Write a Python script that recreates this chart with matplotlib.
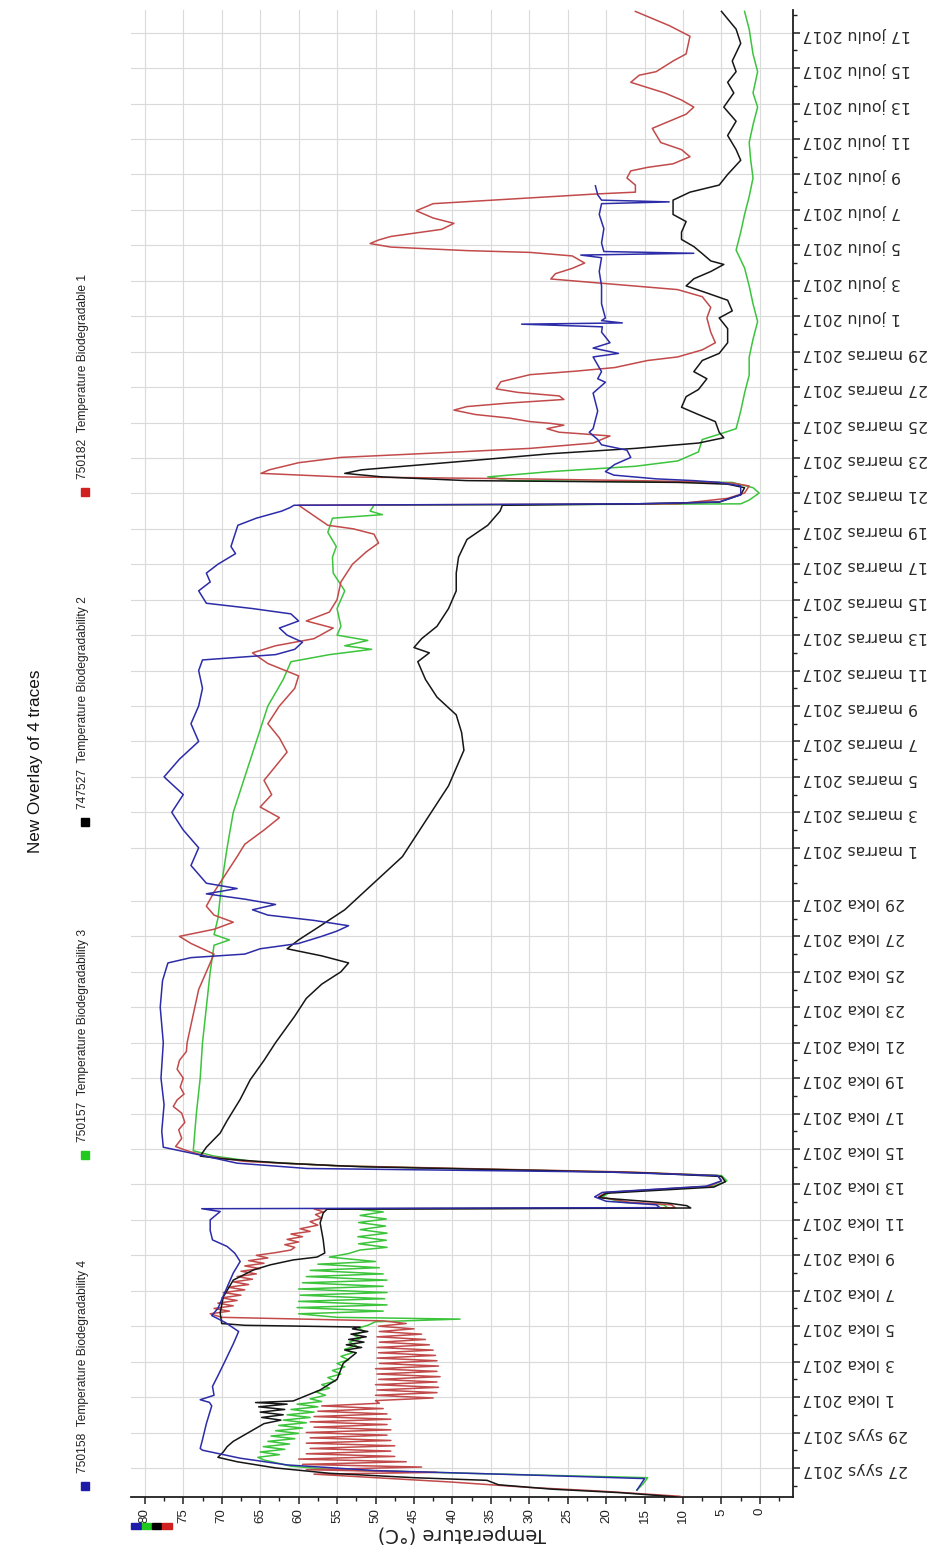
import datetime as dt

import numpy as np
import matplotlib
matplotlib.use("Agg")
import matplotlib.pyplot as plt
import matplotlib.dates as mdates
from matplotlib import font_manager
from matplotlib.patches import Rectangle
from matplotlib.ticker import MultipleLocator, FuncFormatter

# ---------------------------------------------------------------------------
# Data (days counted from 27 syys 2017 00:00, temperature in degC)
# ---------------------------------------------------------------------------

START = dt.datetime(2017, 9, 27)
MONTHS = {9: "syys", 10: "loka", 11: "marras", 12: "joulu"}

TRACE_IDS = ["750158", "750157", "747527", "750182"]
TRACE_NAMES = [
    "Temperature Biodegradability 4",
    "Temperature Biodegradability 3",
    "Temperature Biodegradability 2",
    "Temperature Biodegradable 1",
]

blue = [
    (-1.25, 16), (-0.6, 15), (-0.4, 30), (-0.15, 50), (0.17, 61.5), (0.55, 67.6),
    (1.0, 72.5), (1.1, 72.8), (1.6, 72.5), (2.5, 72.0), (3.5, 71.3), (3.7, 71.6),
    (3.85, 72.8), (4.1, 71.0), (4.6, 71.2), (5.2, 70.5), (6.0, 69.6), (7.0, 68.5),
    (7.7, 67.8), (8.2, 69.5), (8.6, 71.3), (9.0, 70.5), (10.0, 69.5), (11.0, 68.5),
    (11.65, 67.6), (12.12, 68.3), (12.5, 69.3), (12.87, 71.2), (13.4, 71.5), (14.0, 71.5),
    (14.47, 70.2), (14.63, 72.6),
    (14.69, 13), (14.85, 13.5), (15.05, 20), (15.3, 21.5), (15.55, 20.5), (15.9, 7),
    (16.2, 5), (16.5, 5.5), (16.7, 20), (16.9, 58.9), (17.2, 68), (17.66, 72.8),
    (18.1, 77.6), (19, 77.8), (20.5, 77.5), (22, 77.9), (24, 77.6), (26, 78.0),
    (27.5, 77.7), (28.5, 77.0), (28.8, 74), (29.0, 67), (29.3, 65), (29.6, 60),
    (30.0, 57), (30.3, 55), (30.6, 53.5), (30.9, 58), (31.2, 64), (31.5, 66),
    (31.8, 63), (32.1, 67), (32.4, 72), (32.7, 68), (33.0, 72), (34, 74),
    (35, 73), (36, 75), (37, 76.5), (38, 75), (39, 77.5), (40, 75.5),
    (41, 73), (42, 74), (43, 73), (44, 72.5), (45, 73), (45.6, 72.5),
    (45.9, 63), (46.2, 60.5), (46.6, 59.5), (47.0, 61.5), (47.4, 62.5), (47.8, 60),
    (48.2, 61), (48.5, 66), (48.8, 72), (49.5, 73), (50, 71.5), (50.5, 72),
    (51.0, 70.5), (51.6, 68.2), (52.0, 68.8), (53.2, 67.9), (53.6, 65.5), (54.0, 62.2),
    (54.2, 61.1), (54.33, 60.6),
    (54.41, 16.2), (54.51, 5.3), (54.92, 2.5), (55.42, 2.5), (55.62, 5.3), (55.72, 8.6),
    (55.82, 13.5), (56.03, 19.0), (56.23, 20.1), (56.63, 18.9), (57.03, 16.8), (57.44, 17.3),
    (57.74, 20.6), (58.04, 21.1), (58.45, 22.2), (58.65, 21.7), (59.65, 21.1), (60.66, 21.7),
    (61.27, 20.1), (61.47, 21.1), (61.87, 20.6), (62.7, 21.7), (62.9, 18.4), (63.2, 21.7),
    (63.5, 19.5), (64.1, 20.6), (64.4, 20.5), (64.55, 31.0), (64.62, 17.9), (64.75, 20.6),
    (64.9, 20.1), (65.7, 20.6), (66.71, 20.6), (67.52, 20.9), (68.3, 20.6), (68.45, 23.3),
    (68.55, 8.6), (68.65, 20.3), (69.13, 20.6), (69.94, 20.3), (70.74, 20.9), (71.35, 20.6),
    (71.45, 11.8), (71.55, 20.6), (71.85, 21.1), (72.36, 21.4),
]

green = [
    (-1.25, 16), (-0.9, 15.2), (-0.55, 14.6), (-0.35, 33.8), (-0.1, 55.5), (0.1, 61),
    (0.45, 64.5),
    (0.6, 65.3), (0.75, 62.5), (0.9, 65), (1.05, 61.8), (1.2, 64.6), (1.35, 61.2),
    (1.5, 64), (1.65, 60.5), (1.8, 63.6), (1.95, 60), (2.1, 63), (2.25, 59.5),
    (2.4, 62.6), (2.55, 59), (2.7, 62), (2.85, 58.5), (3.0, 61.5), (3.15, 58),
    (3.3, 61), (3.45, 57.5), (3.6, 60.2), (3.75, 57),
    (3.9, 58.5), (4.1, 56.5), (4.3, 57.8), (4.5, 56), (4.7, 57), (4.9, 55.2),
    (5.1, 56.2), (5.3, 54.5), (5.5, 55.6), (5.7, 54), (5.9, 55), (6.1, 53.5),
    (6.3, 54.5), (6.5, 53), (6.7, 54), (6.9, 52.5), (7.1, 53.4), (7.3, 52),
    (7.5, 52.8), (7.7, 51.5), (7.9, 52.2), (8.05, 51),
    (8.25, 50), (8.4, 39), (8.5, 55),
    (8.7, 60), (8.85, 49), (9.05, 60.2), (9.2, 48.5), (9.4, 60), (9.55, 48.8),
    (9.75, 59.8), (9.9, 48.5), (10.1, 60), (10.25, 49), (10.45, 59.5), (10.6, 48.5),
    (10.8, 59), (10.95, 49), (11.15, 58.5), (11.3, 49.5), (11.5, 57.5), (11.65, 50),
    (11.9, 56), (12.1, 53.5), (12.3, 52),
    (12.45, 48.5), (12.65, 52.2), (12.85, 48.6), (13.05, 52.3), (13.25, 48.5), (13.45, 52),
    (13.65, 48.7), (13.85, 52.2), (14.05, 48.6), (14.25, 52), (14.45, 49), (14.62, 52.5),
    (14.68, 12), (14.85, 12.5), (15.0, 18), (15.3, 20.5), (15.55, 19.5), (15.9, 6),
    (16.2, 4.3), (16.5, 5), (16.7, 18), (16.85, 35), (17.05, 55), (17.3, 66),
    (17.6, 71), (17.9, 73.7),
    (20, 73.3), (22, 72.8), (24, 72.5), (26, 72), (28, 71.5), (29.5, 71),
    (29.8, 69), (30.1, 71), (31, 70.5), (33, 70), (35, 69.3), (37, 68.5),
    (39, 67), (41, 65.5), (43, 64), (44.5, 62), (45.5, 61), (45.9, 56),
    (46.2, 50.5), (46.4, 54), (46.7, 51), (47.0, 55), (47.5, 54.5), (48.5, 55),
    (49.5, 54), (50.5, 55.5), (51.4, 55.6), (52.0, 55.1), (52.8, 56.2), (53.6, 55.6),
    (53.8, 49.1), (54.0, 50.7), (54.33, 50.2),
    (54.41, 2.5), (54.62, 1.4), (55.02, 0.1), (55.32, 0.9), (55.62, 3.6), (55.66, 16.2),
    (55.72, 32.6), (55.93, 35.4), (56.23, 27.2), (56.53, 16.2), (56.83, 10.7), (57.34, 8.0),
    (58.04, 7.5), (58.34, 5.3), (58.65, 3.1), (59.65, 2.5), (60.66, 2.0), (61.67, 1.4),
    (62.68, 1.4), (63.7, 0.9), (64.7, 0.3), (65.7, 0.9), (66.71, 1.4), (67.72, 2.0),
    (68.73, 3.1), (69.74, 2.5), (70.74, 2.0), (71.75, 1.4), (72.8, 0.9), (73.8, 1.2),
    (74.8, 1.4), (75.8, 0.9), (76.8, 0.3), (77.6, 0.9), (78.8, 0.3), (79.8, 0.9),
    (81.2, 1.4), (82.2, 2.0),
]

black = [
    (-1.65, 10.4), (-1.4, 18), (-1.2, 27), (-0.95, 34), (-0.7, 35.5), (-0.55, 45),
    (-0.3, 56), (0.0, 63), (0.35, 68), (0.6, 70.5), (0.9, 69.8), (1.2, 69.3),
    (1.5, 68.5), (2.15, 65.9), (2.5, 64.5), (2.7, 62.3), (2.85, 64.8), (3.0, 62),
    (3.15, 65), (3.3, 61.8), (3.45, 65.2), (3.6, 61.5), (3.69, 65.6), (3.78, 60.7),
    (4.4, 57.2), (5.0, 55), (5.9, 54.2), (6.5, 52.5), (6.65, 54), (6.8, 51.8),
    (6.95, 53.8), (7.1, 51.5), (7.25, 53.5), (7.4, 51.2), (7.55, 53.2), (7.7, 51),
    (7.85, 53), (7.95, 52), (8.0, 60), (8.05, 67), (8.15, 70), (8.75, 70.2),
    (9.65, 69.8), (10.6, 68.5), (11.17, 65.9), (11.46, 63.7), (11.74, 60.7), (11.9, 57.6),
    (12.13, 56.6), (12.87, 56.8), (13.83, 57.2), (14.39, 56.8), (14.6, 56.3),
    (14.67, 9), (14.8, 9.5), (14.95, 12), (15.25, 21), (15.5, 20), (15.85, 6),
    (16.15, 4.5), (16.45, 5), (16.65, 15), (16.8, 30), (17.0, 52), (17.2, 62),
    (17.45, 70), (17.6, 72.8),
    (18.1, 72), (18.9, 70.2), (19.6, 69.3), (20.8, 67.6), (21.9, 66.3), (23, 64.5),
    (24, 63), (25.5, 60.5), (26.5, 59), (27.3, 57), (28, 54.5), (28.5, 53.5),
    (28.9, 57), (29.3, 61.5), (29.8, 60), (30.5, 57.5), (31.5, 54), (32.5, 51.5),
    (33.5, 49), (34.5, 46.5), (35.5, 45), (36.5, 43.5), (37.5, 42), (38.5, 40.5),
    (39.5, 39.5), (40.5, 38.5), (41.5, 38.8), (42.5, 39.5), (43.5, 42), (44.5, 43.5),
    (45.5, 44.5), (46, 43), (46.3, 45), (46.8, 44), (47.5, 42), (48.5, 40.5),
    (49.5, 39.5), (50.5, 39.5), (51.4, 39.2), (52.4, 38.1), (53.2, 35.4), (54.0, 33.8),
    (54.33, 33.5),
    (54.41, 16.2), (54.51, 5.3), (54.92, 2.5), (55.32, 2.0), (55.52, 4.2), (55.62, 10.7),
    (55.66, 21.7), (55.72, 38.1), (55.93, 49.1), (56.13, 54.0), (56.33, 51.8), (56.63, 43.6),
    (56.93, 35.4), (57.24, 27.2), (57.54, 16.2), (57.84, 8.0), (58.14, 4.7), (58.45, 5.3),
    (59.05, 5.8), (59.45, 8.0), (59.86, 10.2), (60.46, 9.6), (60.86, 8.0), (61.47, 6.9),
    (61.87, 8.6), (62.5, 7.5), (62.9, 5.3), (63.5, 4.2), (64.3, 4.2), (64.9, 5.3),
    (65.3, 3.6), (65.9, 4.2), (66.31, 6.9), (66.71, 9.6), (67.11, 8.6), (67.52, 6.4),
    (67.92, 4.7), (68.12, 6.4), (68.53, 7.5), (68.93, 8.6), (69.33, 10.2), (69.74, 10.2),
    (70.34, 9.6), (70.74, 11.3), (71.55, 11.3), (72.0, 9.1), (72.4, 5.3), (73.0, 4.2),
    (73.8, 2.5), (74.4, 3.1), (75.2, 4.2), (76.0, 3.1), (76.8, 4.7), (77.6, 3.4),
    (78.2, 4.2), (78.8, 3.1), (79.4, 3.6), (80.4, 2.5), (81.2, 3.1), (82.2, 5.0),
]

red = [
    (-1.6, 10.4), (-1.3, 21), (-1.1, 30), (-0.8, 40), (-0.55, 50), (-0.35, 58),
    (-0.25, 42), (-0.1, 59), (0.05, 44), (0.2, 59.5), (0.35, 46), (0.5, 60),
    (0.65, 47.5), (0.8, 59), (0.95, 48), (1.1, 58.5), (1.25, 47.5), (1.4, 59),
    (1.55, 48), (1.7, 58.5), (1.85, 48.5), (2.0, 59), (2.15, 48), (2.3, 58),
    (2.45, 48.5), (2.6, 58.5), (2.75, 48), (2.9, 58), (3.05, 48.5), (3.2, 57.5),
    (3.35, 49), (3.5, 57), (3.65, 49.5),
    (3.8, 50), (3.95, 42.5), (4.1, 50), (4.25, 42), (4.4, 49.8), (4.55, 41.8),
    (4.7, 50), (4.85, 42), (5.0, 49.6), (5.15, 41.6), (5.3, 49.8), (5.45, 42),
    (5.6, 50), (5.75, 41.8), (5.9, 49.5), (6.05, 42), (6.2, 49.8), (6.35, 42.2),
    (6.5, 49.6), (6.65, 42.5), (6.8, 49.8), (6.95, 43), (7.1, 49.5), (7.25, 43.5),
    (7.4, 49.8), (7.55, 44), (7.7, 49.5), (7.85, 45), (8.0, 49.6), (8.15, 46),
    (8.3, 49), (8.5, 70),
    (8.7, 71.5), (8.85, 69), (9.0, 71), (9.15, 68.5), (9.3, 70.5), (9.45, 68),
    (9.6, 70), (9.75, 67.5), (9.9, 69.8), (10.05, 67), (10.2, 69.2), (10.35, 66.5),
    (10.5, 68.5), (10.65, 66), (10.8, 68), (10.95, 65.5), (11.1, 67.5), (11.25, 65),
    (11.4, 67), (11.55, 64.5), (11.7, 66.5), (11.85, 64), (12.0, 65.5),
    (12.15, 63), (12.3, 61), (12.45, 60.5), (12.6, 61.8), (12.75, 60), (12.9, 61.5),
    (13.05, 59.5), (13.2, 61), (13.35, 58.5), (13.5, 59.8), (13.7, 57.5), (13.9, 58.5),
    (14.1, 57), (14.3, 57.8), (14.45, 56.8), (14.62, 58),
    (14.68, 11), (14.85, 11.5), (15.0, 17), (15.3, 21), (15.55, 20), (15.9, 6.5),
    (16.2, 5), (16.5, 5.5), (16.7, 17), (16.85, 33), (17.05, 55), (17.3, 67),
    (17.6, 72), (17.9, 74.5),
    (18.14, 76.0), (18.6, 75.2), (19.08, 75.6), (19.5, 74.8), (20.02, 75.2), (20.4, 76.3),
    (20.77, 75.8), (21.1, 74.9), (21.5, 75.4), (22, 75), (22.5, 75.8), (23, 75.5),
    (23.5, 74.6), (24, 74.5), (25, 74), (26, 73.5), (27, 73), (28, 72),
    (29, 71), (29.6, 74), (30.0, 75.5), (30.4, 71), (30.8, 68.5), (31.2, 71),
    (31.7, 72), (32.5, 71), (33.5, 69.5), (34.5, 68), (35.2, 67), (36, 64.5),
    (36.7, 62.5), (37.3, 65), (38, 63.5), (38.8, 64.5), (39.6, 63), (40.4, 61.5),
    (41.2, 62.5), (42, 64), (43, 62.5), (44, 60.5), (44.7, 60), (45.4, 64),
    (46.0, 66), (46.4, 63), (46.8, 58), (47.4, 55.5), (47.8, 59), (48.3, 56),
    (49, 55), (50, 54.5), (51, 53), (51.7, 51.2), (52.2, 49.6), (52.7, 50.2),
    (53.0, 52.9), (53.2, 56.2), (54.0, 58.9), (54.33, 60),
    (54.41, 10.7), (54.72, 4.2), (55.02, 2.0), (55.42, 1.4), (55.58, 3.6), (55.66, 8.6),
    (55.72, 16.2), (55.83, 32.6), (55.93, 54.5), (56.13, 64.9), (56.33, 63.8), (56.73, 60.0),
    (57.03, 54.5), (57.14, 49.1), (57.34, 39.2), (57.54, 29.9), (57.84, 21.7), (58.24, 19.5),
    (58.35, 22.8), (58.45, 26.1), (58.65, 27.7), (58.85, 25.5), (58.95, 27.2), (59.05, 29.9),
    (59.25, 32.6), (59.45, 37.0), (59.7, 39.8), (59.9, 38.1), (60.1, 32.6), (60.3, 25.5),
    (60.5, 26.1), (60.7, 31.5), (60.9, 34.3), (61.3, 33.7), (61.7, 29.9), (61.9, 23.9),
    (62.1, 18.9), (62.5, 14.6), (62.7, 10.7), (63.1, 7.5), (63.5, 5.8), (64.1, 6.4),
    (64.9, 6.9), (65.5, 6.4), (66.1, 7.5), (66.5, 10.7), (66.7, 16.2), (66.9, 21.7),
    (67.1, 27.2), (67.4, 26.6), (67.7, 24.4), (68.0, 22.8), (68.4, 24.4), (68.6, 29.9),
    (68.7, 38.1), (68.9, 48.0), (69.1, 50.7), (69.3, 49.6), (69.5, 48.0), (69.7, 44.7),
    (69.9, 41.4), (70.24, 39.8), (70.54, 42.5), (70.95, 44.7), (71.35, 42.5), (71.55, 34.8),
    (71.75, 27.2), (71.9, 21.2), (72.0, 16.2), (72.4, 16.2), (72.8, 17.3), (73.2, 16.8),
    (73.4, 14.6), (73.6, 11.3), (74.0, 9.1), (74.4, 10.2), (74.8, 12.9), (75.6, 14.0),
    (76.0, 11.8), (76.4, 9.6), (76.8, 8.6), (77.2, 10.2), (77.6, 12.4), (77.9, 14.6),
    (78.2, 16.8), (78.6, 15.7), (78.8, 13.5), (79.4, 11.3), (79.8, 9.6), (80.8, 9.1),
    (81.4, 11.8), (82.2, 16.2),
]

SERIES = [blue, green, black, red]
LINE_COLOURS = ["#2c2ca8", "#3cc43c", "#161616", "#c24a4a"]
KEY_COLOURS = ["#1c1ca8", "#20c820", "#000000", "#d02020"]

# ---------------------------------------------------------------------------
# Fonts
# ---------------------------------------------------------------------------

_installed = {f.name for f in font_manager.fontManager.ttflist}
if "Liberation Sans Narrow" in _installed:
    NARROW, NARROW_SCALE = "Liberation Sans Narrow", 1.0
else:
    NARROW, NARROW_SCALE = "Liberation Sans", 0.84

W, H = 929, 1546


def fx(px):
    return px / W


def fy(py):
    return 1 - py / H


def finnish_date(value, pos=None):
    d = mdates.num2date(value)
    return f"{d.day} {MONTHS[d.month]} {d.year}"


# ---------------------------------------------------------------------------
# Figure (drawn rotated: temperature runs right-to-left, time bottom-to-top)
# ---------------------------------------------------------------------------

fig = plt.figure(figsize=(W / 100, H / 100), dpi=100)
ax = fig.add_axes([fx(131), 1 - 1497 / H, (793 - 131) / W, (1497 - 10) / H])

t0 = mdates.date2num(START)
order = [1, 3, 2, 0]  # green, red, black, blue on top
for i in order:
    arr = np.array(SERIES[i], dtype=float)
    ax.plot(arr[:, 1], t0 + arr[:, 0], color=LINE_COLOURS[i], lw=1.1, zorder=3)

ax.set_xlim(81.8, -4.3)
ax.set_ylim(t0 - 1.64, t0 + 82.28)

for side in ("left", "top"):
    ax.spines[side].set_visible(False)
for side in ("right", "bottom"):
    ax.spines[side].set_color("#202020")
    ax.spines[side].set_linewidth(1.3)

ax.xaxis.set_major_locator(MultipleLocator(5))
ax.xaxis.set_minor_locator(MultipleLocator(2.5))
ax.yaxis.tick_right()
ax.yaxis.set_major_locator(mdates.DayLocator(bymonthday=range(1, 31, 2)))
ax.yaxis.set_minor_locator(mdates.DayLocator())
ax.yaxis.set_major_formatter(FuncFormatter(finnish_date))

ax.grid(True, which="major", color="#dadada", lw=0.8)
ax.set_axisbelow(True)

ax.tick_params(axis="x", which="major", length=5, width=1.1, color="#202020",
               labelrotation=90, labelsize=11.5 * NARROW_SCALE, pad=3)
ax.tick_params(axis="x", which="minor", length=3, width=1.0, color="#202020")
ax.tick_params(axis="y", which="major", length=5, width=1.1, color="#202020",
               labelrotation=180, labelsize=11.3, pad=2)
ax.tick_params(axis="y", which="minor", length=3, width=1.0, color="#202020")
for lab in ax.get_xticklabels():
    lab.set_family(NARROW)
    lab.set_color("#222222")
for lab in ax.get_yticklabels():
    lab.set_color("#2a2a2a")

ax.set_xlabel("Temperature (°C)", rotation=180, fontsize=14, color="#222222", va="center")
ax.xaxis.set_label_coords(0.5, -(1534 - 1497) / (1497 - 10))

# colour key under the temperature axis
for k, col in enumerate(KEY_COLOURS):
    fig.patches.append(Rectangle((fx(131 + 10.5 * k), fy(1529)), 9.5 / W, 6 / H,
                                 transform=fig.transFigure, color=col, zorder=5))

# title and legend
fig.text(fx(36), fy(761), "New Overlay of 4 traces", rotation=90, ha="center",
         va="center", fontsize=14.7 * NARROW_SCALE, family=NARROW, color="#111111")

key_y = [1486, 1155, 822, 492]
for tid, name, col, yk in zip(TRACE_IDS, TRACE_NAMES, KEY_COLOURS, key_y):
    fig.patches.append(Rectangle((fx(81), fy(yk + 4)), 8 / W, 8 / H,
                                 transform=fig.transFigure, color=col))
    fig.text(fx(83), fy(yk - 13), f"{tid}  {name}", rotation=90, ha="center",
             va="bottom", fontsize=10.3 * NARROW_SCALE, family=NARROW, color="#222222")

fig.savefig("out.png", dpi=100)
